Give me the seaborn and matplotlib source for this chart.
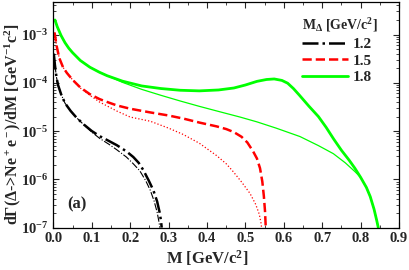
import pandas as pd
import matplotlib
matplotlib.use("Agg")
import matplotlib.pyplot as plt
import seaborn as sns
from matplotlib.ticker import MultipleLocator, LogLocator, NullFormatter

# Data (M in GeV/c^2, dGamma/dM in GeV^-1 c^2)
m_black = [0.001, 0.004, 0.008, 0.012, 0.02, 0.03, 0.045, 0.06, 0.08, 0.10, 0.121, 0.145, 0.165, 0.19, 0.208,
           0.222, 0.234, 0.248, 0.26, 0.27, 0.277, 0.28, 0.282]
y_black = [4e-4, 2.3e-4, 1.3e-4, 9e-5, 5.8e-5, 3.8e-5, 2.6e-5, 1.9e-5, 1.35e-5, 1.0e-5, 7.8e-6, 6.2e-6, 5.1e-6,
           3.8e-6, 2.9e-6, 2.2e-6, 1.56e-6, 9.5e-7, 6e-7, 3.5e-7, 2e-7, 1.4e-7, 1e-7]
m_black_thin = [0.001, 0.004, 0.008, 0.012, 0.02, 0.03, 0.045, 0.06, 0.08, 0.10, 0.121, 0.145, 0.165, 0.19, 0.208,
                0.225, 0.24, 0.252, 0.262, 0.27, 0.275, 0.277]
y_black_thin = [4e-4, 2.3e-4, 1.3e-4, 9e-5, 5.8e-5, 3.8e-5, 2.6e-5, 1.9e-5, 1.33e-5, 9.5e-6, 7e-6, 5.3e-6, 4.1e-6,
                2.9e-6, 2.1e-6, 1.5e-6, 9.5e-7, 6e-7, 3.6e-7, 2.1e-7, 1.3e-7, 1e-7]

m_red = [0.003, 0.008, 0.015, 0.025, 0.035, 0.05, 0.07, 0.095, 0.12, 0.14, 0.165, 0.2, 0.25, 0.30, 0.34, 0.38,
         0.425, 0.45, 0.47, 0.49, 0.505, 0.52, 0.53, 0.538, 0.544, 0.548, 0.551, 0.553]
y_red = [1.1e-3, 6e-4, 3.3e-4, 2.1e-4, 1.6e-4, 1.15e-4, 8e-5, 5.8e-5, 4.6e-5, 4.0e-5, 3.4e-5, 2.9e-5, 2.45e-5,
         2.1e-5, 1.8e-5, 1.5e-5, 1.25e-5, 1.1e-5, 9.5e-6, 7.6e-6, 5.8e-6, 3.8e-6, 2.7e-6, 1.7e-6, 9e-7, 4.5e-7,
         2.2e-7, 1e-7]
m_red_thin = [0.003, 0.008, 0.015, 0.025, 0.035, 0.05, 0.07, 0.095, 0.12, 0.165, 0.2, 0.252, 0.30, 0.338, 0.38,
              0.425, 0.45, 0.468, 0.49, 0.512, 0.527, 0.536, 0.541, 0.542]
y_red_thin = [1.1e-3, 6e-4, 3.3e-4, 2.1e-4, 1.6e-4, 1.15e-4, 7.8e-5, 5.5e-5, 4.0e-5, 2.6e-5, 1.95e-5, 1.6e-5,
              1.15e-5, 8.5e-6, 5.6e-6, 3.1e-6, 2.1e-6, 1.45e-6, 8.8e-7, 5.1e-7, 3.0e-7, 1.9e-7, 1.2e-7, 1e-7]

m_green = [0.004, 0.01, 0.02, 0.03, 0.04, 0.05, 0.07, 0.095, 0.12, 0.14, 0.18, 0.23, 0.28, 0.33, 0.38, 0.43,
           0.47, 0.50, 0.53, 0.555, 0.575, 0.595, 0.61, 0.625, 0.64, 0.665, 0.69, 0.71, 0.73, 0.75, 0.77, 0.785,
           0.80, 0.815, 0.825, 0.835, 0.842, 0.846]
y_green = [2.0e-3, 1.45e-3, 9.5e-4, 6.8e-4, 5.2e-4, 4.2e-4, 2.9e-4, 2.1e-4, 1.65e-4, 1.4e-4, 1.08e-4, 8.6e-5,
           7.6e-5, 7.0e-5, 6.8e-5, 7.1e-5, 7.8e-5, 9.0e-5, 1.07e-4, 1.17e-4, 1.2e-4, 1.12e-4, 9.8e-5, 7.6e-5,
           5.6e-5, 3.3e-5, 2.0e-5, 1.2e-5, 6.8e-6, 4.0e-6, 2.5e-6, 1.7e-6, 1.1e-6, 6.8e-7, 4.4e-7, 2.4e-7,
           1.4e-7, 1e-7]
m_green_thin = [0.004, 0.01, 0.02, 0.03, 0.04, 0.05, 0.07, 0.095, 0.12, 0.14, 0.16, 0.18, 0.23, 0.28, 0.33, 0.38,
                0.43, 0.486, 0.53, 0.58, 0.642, 0.69, 0.729, 0.76, 0.785, 0.80, 0.815, 0.825, 0.835, 0.842, 0.846]
y_green_thin = [2.0e-3, 1.45e-3, 9.5e-4, 6.8e-4, 5.2e-4, 4.2e-4, 2.9e-4, 2.1e-4, 1.65e-4, 1.4e-4, 1.2e-4,
                1.02e-4, 7.3e-5, 5.5e-5, 4.2e-5, 3.25e-5, 2.55e-5, 1.95e-5, 1.55e-5, 1.15e-5, 7.7e-6, 5.0e-6,
                3.4e-6, 2.2e-6, 1.45e-6, 1.1e-6, 6.8e-7, 4.4e-7, 2.4e-7, 1.4e-7, 1e-7]

y_ticks = [1e-7, 1e-6, 1e-5, 1e-4, 1e-3]
y_tick_labels = [r'$10^{-7}$', r'$10^{-6}$', r'$10^{-5}$', r'$10^{-4}$', r'$10^{-3}$']
x_ticks = [0.0, 0.1, 0.2, 0.3, 0.4, 0.5, 0.6, 0.7, 0.8, 0.9]

sns.set_style("ticks")
plt.rcParams['font.family'] = ['Liberation Serif', 'DejaVu Serif']
plt.rcParams['font.weight'] = 'bold'
plt.rcParams['mathtext.fontset'] = 'custom'
plt.rcParams['mathtext.rm'] = 'Liberation Serif:bold'
plt.rcParams['mathtext.it'] = 'Liberation Serif:bold'
plt.rcParams['mathtext.bf'] = 'Liberation Serif:bold'

fig = plt.figure(figsize=(4.09, 2.70), dpi=100)
ax = fig.add_axes([0.1306, 0.157, 0.845, 0.837])

lime = '#00ff00'
curves = [
    (m_black, y_black, 'black', '-.', 1.8, '1.2'),
    (m_black_thin, y_black_thin, 'black', '-.', 0.8, None),
    (m_red, y_red, 'red', '--', 1.8, '1.5'),
    (m_red_thin, y_red_thin, 'red', ':', 0.9, None),
    (m_green, y_green, lime, '-', 2.0, '1.8'),
    (m_green_thin, y_green_thin, lime, '-', 0.9, None),
]
for mx, yy, col, ls, lw, lab in curves:
    df = pd.DataFrame({'M': mx, 'dG': yy})
    sns.lineplot(data=df, x='M', y='dG', color=col, linestyle=ls, linewidth=lw,
                 label=lab, ax=ax, legend=False)

ax.set_yscale('log')
ax.set_xlim(0, 0.9)
ax.set_ylim(1e-7, 4.8e-3)
ax.set_xticks(x_ticks)
ax.set_xticklabels([f'{v:.1f}' for v in x_ticks])
ax.xaxis.set_minor_locator(MultipleLocator(0.05))
ax.set_yticks(y_ticks)
ax.set_yticklabels(y_tick_labels)
ax.yaxis.set_minor_locator(LogLocator(base=10, subs=range(2, 10), numticks=20))
ax.yaxis.set_minor_formatter(NullFormatter())
ax.tick_params(which='both', direction='in', top=True, right=True, labelsize=10.5)
ax.tick_params(which='major', length=4, width=0.8)
ax.tick_params(which='minor', length=2, width=0.6)
for s in ax.spines.values():
    s.set_linewidth(0.9)
    s.set_color('black')

ax.set_xlabel(r'M [GeV/c$^2$]', fontsize=12, fontweight='bold')
ax.xaxis.set_label_coords(0.445, -0.09)
ax.set_ylabel(r'd$\Gamma$($\Delta$->Ne$^+$e$^-$)/dM [GeV$^{-1}$c$^2$]', fontsize=11.5, fontweight='bold')
ax.yaxis.set_label_coords(-0.088, 0.46)

ax.text(0.039, 0.085, '(a)', transform=ax.transAxes, fontsize=12, fontweight='bold')

handles, labels = ax.get_legend_handles_labels()
keep = [(h, l) for h, l in zip(handles, labels) if l in ('1.2', '1.5', '1.8')]
leg = ax.legend([h for h, l in keep], [l for h, l in keep], title=r'M$_\Delta$ [GeV/c$^2$]',
                loc='upper left', bbox_to_anchor=(0.72, 0.935), frameon=False, fontsize=11,
                title_fontsize=10, handlelength=3.0, handletextpad=0.3, labelspacing=0.2,
                borderpad=0, borderaxespad=0)
leg._legend_box.align = 'left'
leg.get_title().set_fontweight('bold')

fig.savefig('out.png', dpi=100)
